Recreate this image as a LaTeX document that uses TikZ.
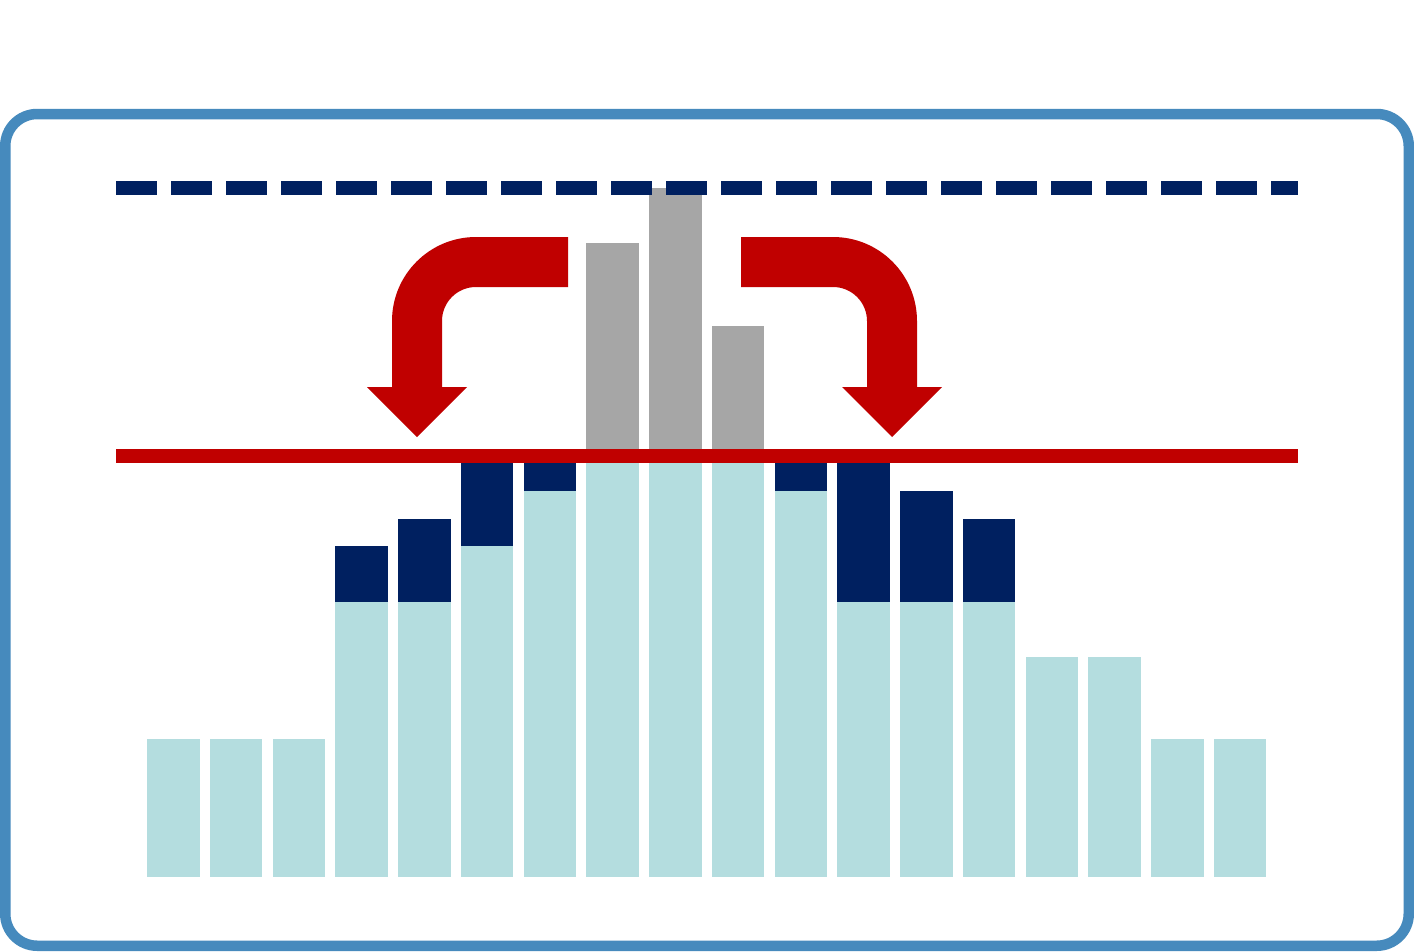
\documentclass[tikz,border=0pt]{standalone}
\usetikzlibrary{calc}
\definecolor{frameblue}{RGB}{70,138,189}
\definecolor{navy}{RGB}{0,32,96}
\definecolor{darkred}{RGB}{192,0,0}
\definecolor{lightteal}{RGB}{180,221,223}
\definecolor{midgray}{RGB}{166,166,166}
\tikzset{
  framebox/.style={draw=frameblue, line width=10.5pt, rounded corners=32pt},
  basebar/.style={fill=lightteal},
  capbar/.style={fill=navy},
  graybar/.style={fill=midgray},
  limitline/.style={draw=navy, line width=14pt, dash pattern=on 41pt off 14pt},
  redline/.style={fill=darkred},
  bendarrow/.style={fill=darkred},
}
\begin{document}
\begin{tikzpicture}[x=1pt,y=-1pt]
\useasboundingbox (0,0) rectangle (1414,951);
\fill[white] (0,0) rectangle (1414,951);
% frame
\draw[framebox] (5.25,114) rectangle (1408.75,945.75);
% gray bars
\foreach \i/\t in {8/243,9/188,10/326}{
  \fill[graybar] ({147+62.76*(\i-1)},\t) rectangle ++(52.5,{456-\t});
}
% base bars
\foreach \t [count=\i] in {739,739,739,602,602,546,491,463,463,463,491,602,602,602,657,657,739,739}{
  \fill[basebar] ({147+62.76*(\i-1)},\t) rectangle ({147+62.76*(\i-1)+52.5},877);
}
% caps
\foreach \i/\t/\b in {4/546/602,5/519/602,6/463/546,7/463/491,11/463/491,12/463/602,13/491/602,14/519/602}{
  \fill[capbar] ({147+62.76*(\i-1)},\t) rectangle ({147+62.76*(\i-1)+52.5},\b);
}
% dashed line
\coordinate (dl) at (116,187.5);
\coordinate (dr) at (1298,187.5);
\draw[limitline] (dl) -- (dr);
% red line
\fill[redline] (116,449) rectangle (1298,463);
% left arrow
\fill[bendarrow] (568,237) -- (476,237) .. controls (429.6,237) and (392,274.6) .. (392,321)
  -- (392,387) -- (367,387) -- (417,437) -- (467,387) -- (442,387) -- (442,321)
  .. controls (442,302.2) and (457.2,287) .. (476,287) -- (568,287) -- cycle;
% right arrow
\fill[bendarrow] (741,237) -- (833,237) .. controls (879.4,237) and (917,274.6) .. (917,321)
  -- (917,387) -- (942,387) -- (892,437) -- (842,387) -- (867,387) -- (867,321)
  .. controls (867,302.2) and (851.8,287) .. (833,287) -- (741,287) -- cycle;
\end{tikzpicture}
\end{document}
